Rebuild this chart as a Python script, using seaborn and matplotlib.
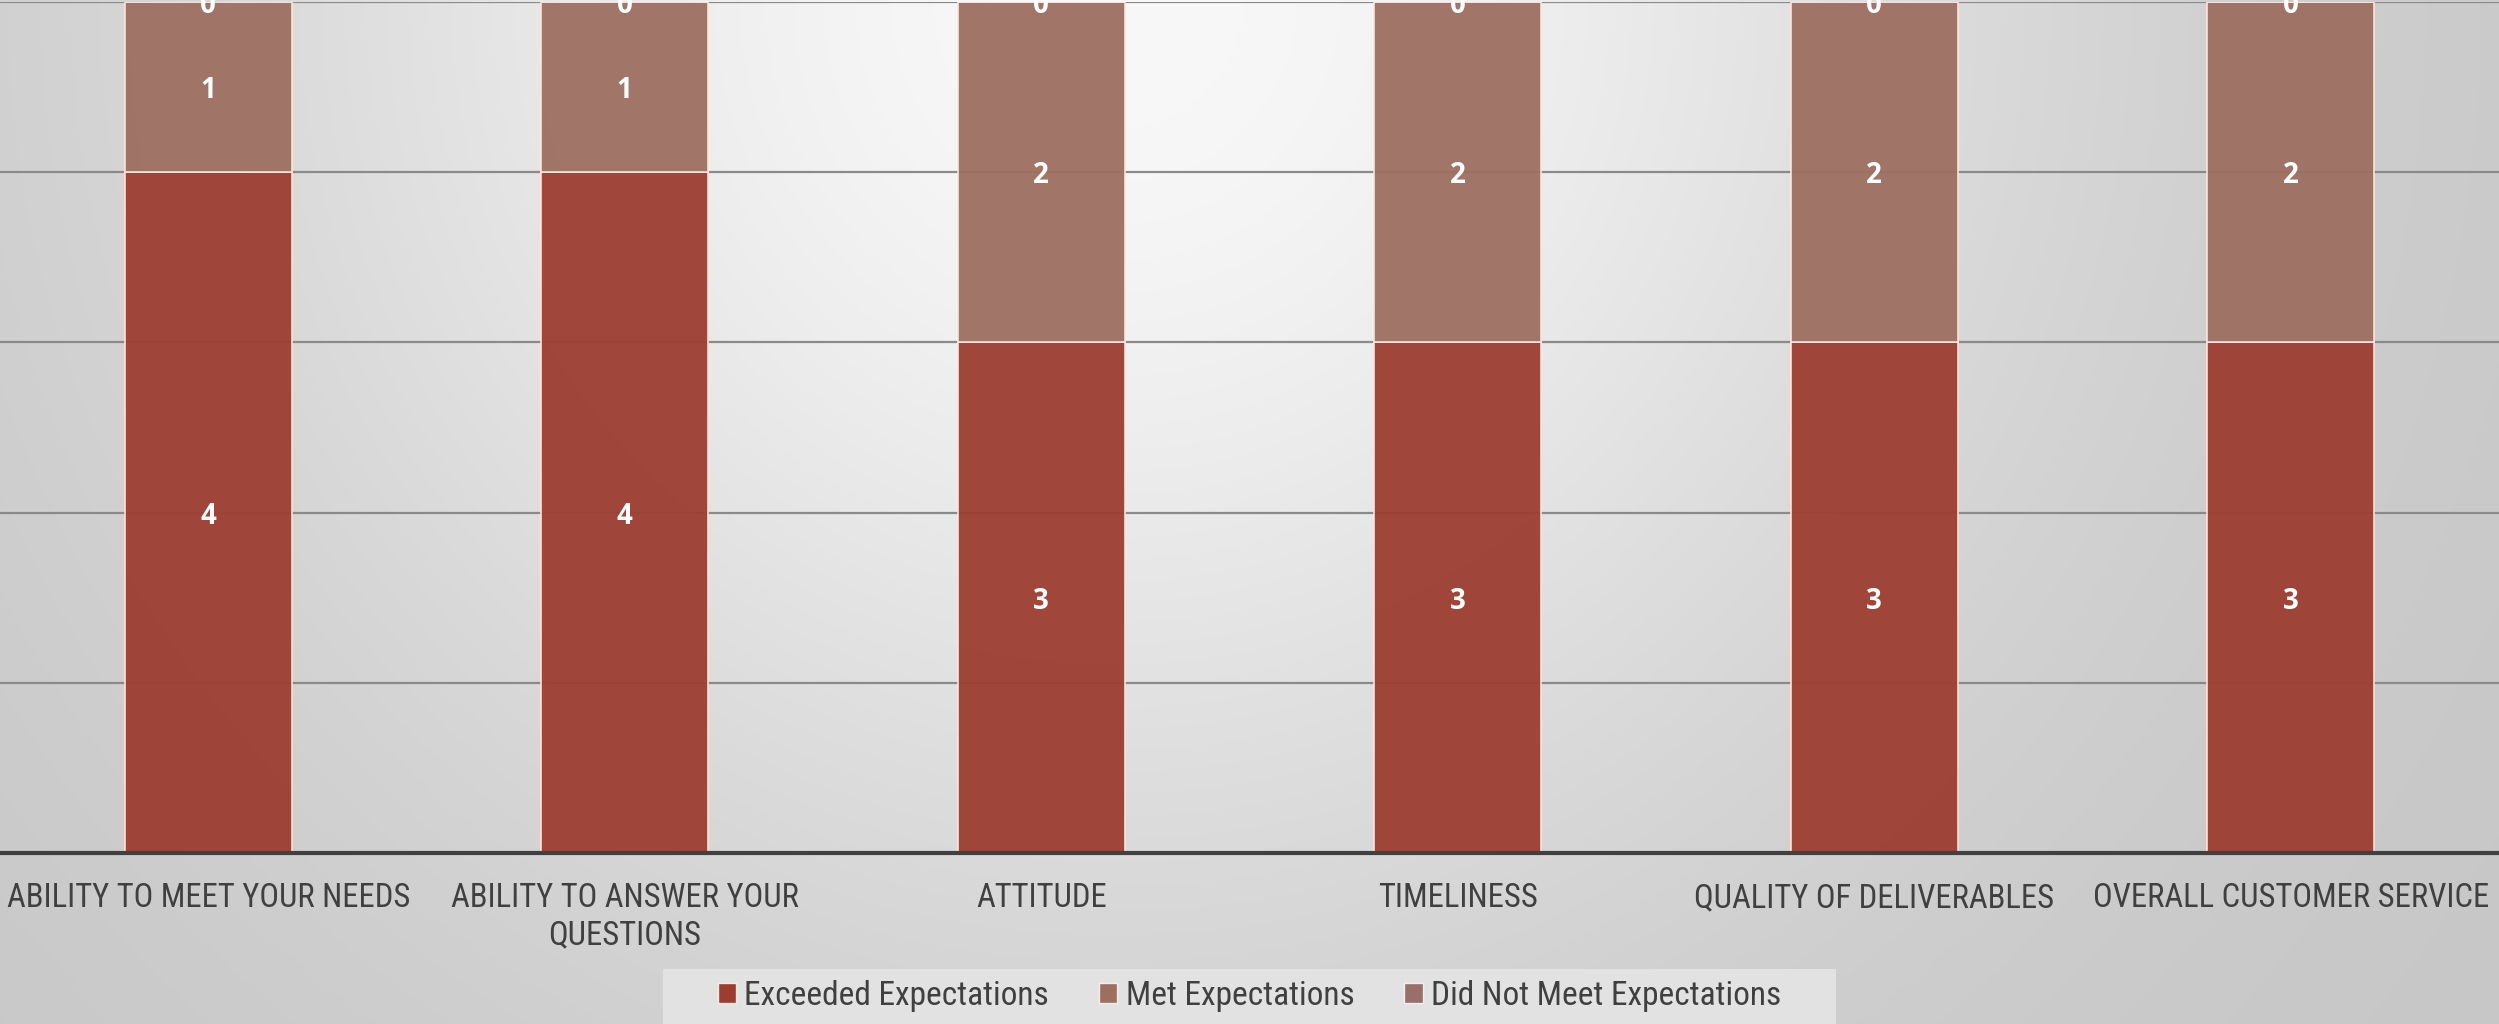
import numpy as np
import matplotlib
matplotlib.use("Agg")
import matplotlib.pyplot as plt
from matplotlib.patches import Patch, Rectangle
from matplotlib import font_manager
import seaborn as sns

categories = [
    "ABILITY TO MEET YOUR NEEDS",
    "ABILITY TO ANSWER YOUR\nQUESTIONS",
    "ATTITUDE",
    "TIMELINESS",
    "QUALITY OF DELIVERABLES",
    "OVERALL CUSTOMER SERVICE",
]
exceeded = [4, 4, 3, 3, 3, 3]
met = [1, 1, 2, 2, 2, 2]
not_met = [0, 0, 0, 0, 0, 0]
series_names = ["Exceeded Expectations", "Met Expectations", "Did Not Meet Expectations"]
series_colors = ["#9D3D31", "#9D6F61", "#9A6E6A"]

sns.set_theme(style="white")
installed = {f.name for f in font_manager.fontManager.ttflist}
narrow = [f for f in ["Roboto Condensed", "Noto Sans Condensed", "Open Sans Condensed",
                      "Liberation Sans Narrow", "Ubuntu Condensed", "DejaVu Sans Condensed"]
          if f in installed]
if narrow:
    family = [narrow[0], "DejaVu Sans"]
    tick_size, legend_size = 23.5, 24
else:
    family = ["Open Sans", "DejaVu Sans"]
    tick_size, legend_size = 17, 18
plt.rcParams["font.family"] = family
value_family = ["Open Sans", "DejaVu Sans"]

W, H = 2499, 1024
fig = plt.figure(figsize=(W / 100, H / 100), dpi=100)

# soft radial backdrop, brightest near the top centre
bg = fig.add_axes([0, 0, 1, 1], zorder=-10)
yy, xx = np.mgrid[0:H, 0:W]
r = np.hypot(xx - 1115, yy * 1.0)
shade = 198 + 50 * np.exp(-(r / 900.0) ** 2)
img = np.dstack([shade, shade, shade]) / 255.0
bg.imshow(img, aspect="auto", extent=[0, 1, 0, 1], interpolation="bilinear")
bg.set_xlim(0, 1)
bg.set_ylim(0, 1)
bg.set_axis_off()

# legend panel
bg.add_patch(Rectangle((663 / W, 0), (1836 - 663) / W, (1024 - 969) / H,
                       facecolor="#E2E2E2", edgecolor="none", zorder=2))

ax = fig.add_axes([0, 1 - 853 / H, 1, (853 - 2) / H])
ax.set_facecolor("none")

bottoms = np.zeros(len(categories))
for name, vals, col in zip(series_names, [exceeded, met, not_met], series_colors):
    base = bottoms.copy()
    sns.barplot(x=categories, y=vals, bottom=base, color=col, width=0.4,
                saturation=1, alpha=0.95, edgecolor=(1, 0.9, 0.88, 0.8),
                linewidth=1.2, ax=ax, zorder=3)
    for i, v in enumerate(vals):
        ax.text(i, base[i] + v / 2, f"{v}", ha="center", va="center_baseline",
                color="white", fontsize=20, fontweight="bold", family=value_family,
                zorder=6, clip_on=False)
    bottoms += np.array(vals)

ax.set_xlim(-0.5, 5.5)
ax.set_ylim(0, 5)
ax.set_yticks([0, 1, 2, 3, 4, 5])
ax.set_yticklabels([])
ax.tick_params(axis="y", length=0)
ax.tick_params(axis="x", length=0, pad=21, labelsize=tick_size, labelcolor="#404040")
ax.set_xlabel("")
ax.set_ylabel("")
ax.grid(axis="y", color="#8A8A8A", linewidth=1.6, zorder=1)
ax.set_axisbelow(True)
for s in ["left", "right", "top"]:
    ax.spines[s].set_visible(False)
ax.spines["bottom"].set_color("#404040")
ax.spines["bottom"].set_linewidth(3)
ax.spines["bottom"].set_zorder(6)

handles = [Patch(facecolor=c, edgecolor=(1, 1, 1, 0.8), linewidth=1) for c in series_colors]
leg = fig.legend(handles, series_names, loc="center", bbox_to_anchor=(0.5, 1 - 996 / H),
                 ncol=3, frameon=False, fontsize=legend_size, handlelength=0.55,
                 handleheight=0.55, handletextpad=0.25, columnspacing=1.5,
                 borderpad=0, labelcolor="#404040")

fig.savefig("out.png", dpi=100)
